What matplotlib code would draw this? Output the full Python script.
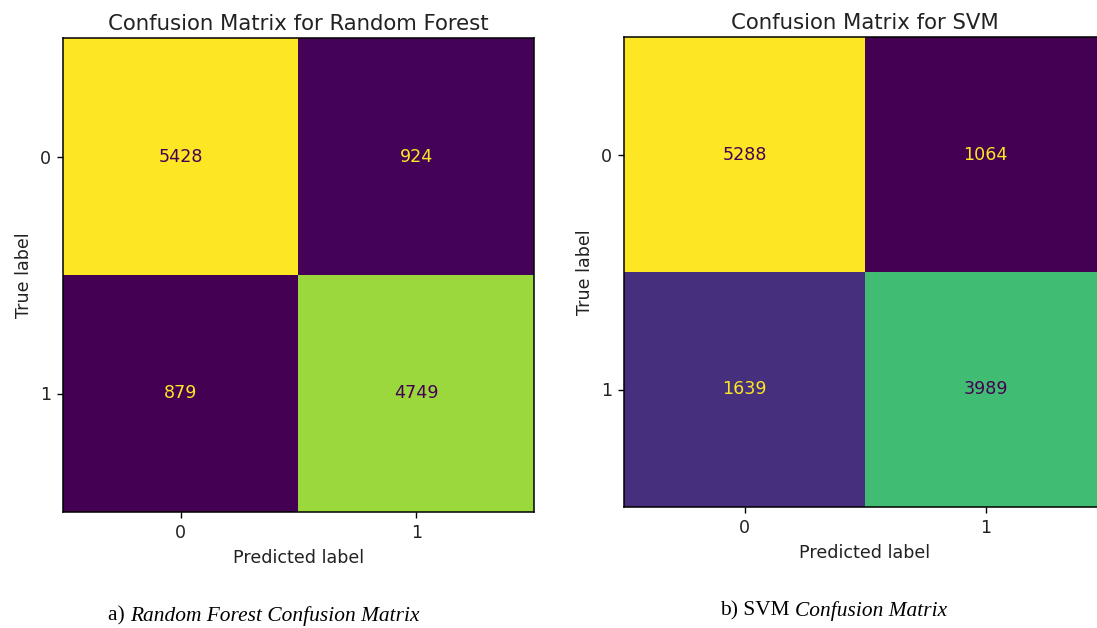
import numpy as np
import matplotlib
matplotlib.use("Agg")
import matplotlib.pyplot as plt

# ---- data ----
class_labels = ["0", "1"]
rf_matrix = [[5428, 924], [879, 4749]]
svm_matrix = [[5288, 1064], [1639, 3989]]
titles = ["Confusion Matrix for Random Forest", "Confusion Matrix for SVM"]
cap_prefix = ["a) ", "b) SVM "]
cap_italic = ["Random Forest Confusion Matrix", "Confusion Matrix"]

W, H = 1097, 628
fig = plt.figure(figsize=(W / 100, H / 100), dpi=100)

# axes boxes in pixels: left, top, right, bottom
boxes = [(63, 38, 534, 512), (624, 37, 1106, 507)]
cmap = plt.get_cmap("viridis")
FS = 12.6

def draw_cm(ax, mat, title):
    m = np.array(mat, dtype=float)
    vmin, vmax = m.min(), m.max()
    ax.imshow(m, cmap=cmap, vmin=vmin, vmax=vmax, aspect="auto", interpolation="nearest")
    thresh = (vmax + vmin) / 2.0
    for i in range(m.shape[0]):
        for j in range(m.shape[1]):
            col = cmap(0.0) if m[i, j] >= thresh else cmap(1.0)
            ax.text(j, i, f"{int(m[i, j])}", ha="center", va="center", color=col, fontsize=FS)
    ax.set_xticks(range(len(class_labels)))
    ax.set_yticks(range(len(class_labels)))
    ax.set_xticklabels(class_labels, fontsize=FS, color="#222222")
    ax.set_yticklabels(class_labels, fontsize=FS, color="#222222")
    ax.set_xlabel("Predicted label", fontsize=FS, labelpad=5, color="#222222")
    ax.set_ylabel("True label", fontsize=FS, labelpad=5, color="#222222")
    ax.set_title(title, fontsize=15.3, pad=6, color="#222222")
    ax.tick_params(length=4.5, width=1, pad=4)
    for s in ax.spines.values():
        s.set_linewidth(1.1)

for (l, t, r, b), mat, title in zip(boxes, [rf_matrix, svm_matrix], titles):
    ax = fig.add_axes([l / W, 1 - b / H, (r - l) / W, (b - t) / H])
    draw_cm(ax, mat, title)

# captions with mixed upright / italic text
cap_centers = [(264, 616), (834, 611)]
fig.canvas.draw()
renderer = fig.canvas.get_renderer()
for (cx, cy), pre, ital in zip(cap_centers, cap_prefix, cap_italic):
    t1 = fig.text(0, 1 - cy / H, pre, family="Liberation Serif", fontsize=15.4,
                  ha="left", va="center")
    t2 = fig.text(0, 1 - cy / H, ital, family="Liberation Serif", style="italic",
                  fontsize=15.4, ha="left", va="center")
    w1 = t1.get_window_extent(renderer).width
    w2 = t2.get_window_extent(renderer).width
    x0 = cx - (w1 + w2) / 2
    t1.set_x(x0 / W)
    t2.set_x((x0 + w1) / W)

fig.savefig("out.png", dpi=100)
